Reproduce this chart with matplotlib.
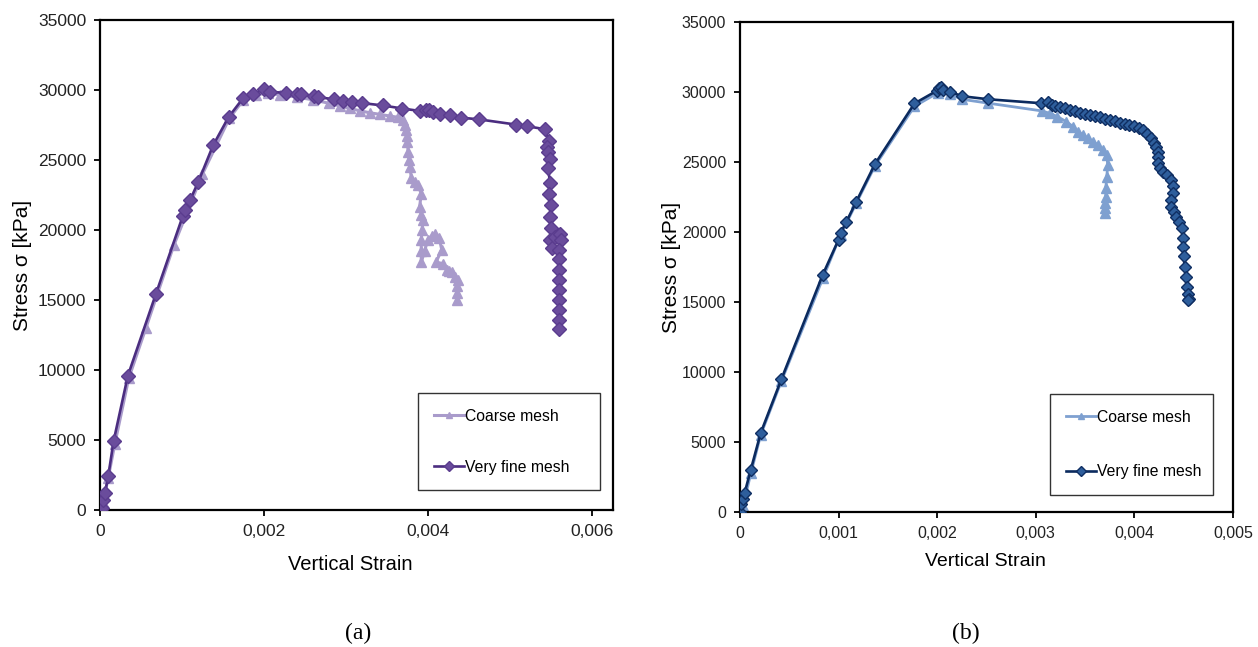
import matplotlib
matplotlib.use("Agg")
import matplotlib.pyplot as plt
from matplotlib.ticker import FuncFormatter, FixedLocator

# ---------------- data (a) ----------------
coarse_a_x = [0, 0.00004, 0.0001, 0.00018, 0.00035, 0.00056, 0.0009, 0.00125, 0.00158, 0.00175,
              0.0019, 0.00205, 0.0022, 0.0024, 0.0026, 0.0028, 0.00293, 0.00305, 0.00317, 0.00329,
              0.00342, 0.00354, 0.00364, 0.0037, 0.00372, 0.00373, 0.00374, 0.00375, 0.00376, 0.00377,
              0.00378, 0.0038, 0.00384, 0.00388, 0.00392, 0.0039, 0.00392, 0.00394, 0.00393, 0.00392,
              0.00392, 0.00392, 0.00396, 0.004, 0.00405, 0.00409, 0.00414, 0.00417, 0.0041, 0.00419,
              0.00423, 0.00426, 0.00429, 0.00433, 0.00437, 0.00436, 0.00436, 0.00436]
coarse_a_y = [0, 600, 2300, 4700, 9400, 13000, 18900, 24000, 28000, 29300,
              29650, 29800, 29650, 29500, 29300, 29050, 28860, 28690, 28520, 28380,
              28260, 28140, 28050, 27860, 27500, 27140, 26700, 26300, 25600, 25000,
              24500, 23700, 23400, 23200, 22600, 21650, 21100, 20700, 20000, 19300,
              18500, 17700, 18500, 19300, 19600, 19700, 19400, 18600, 17700, 17600,
              17150, 17100, 17000, 16650, 16400, 16000, 15500, 15000]

fine_a_x = [0, 0.00002, 0.00004, 0.00006, 0.0001, 0.000165, 0.00034, 0.00068, 0.00101, 0.00104,
            0.0011, 0.0012, 0.00138, 0.00157, 0.00175, 0.00187, 0.002, 0.00208, 0.00227, 0.0024,
            0.00245, 0.00261, 0.00266, 0.00285, 0.00297, 0.00308, 0.0032, 0.00345, 0.00369, 0.00391,
            0.00398, 0.00402, 0.00406, 0.00415, 0.00427, 0.0044, 0.00462, 0.00508, 0.00521, 0.00543,
            0.00548, 0.00546, 0.00547, 0.00549, 0.00547, 0.00549, 0.00548, 0.0055, 0.00549, 0.0055,
            0.00549, 0.00551, 0.00555, 0.00561, 0.00563, 0.0056, 0.0056, 0.0056, 0.0056, 0.0056,
            0.0056, 0.0056, 0.0056, 0.0056]
fine_a_y = [0, 120, 700, 1200, 2400, 4900, 9600, 15400, 21000, 21400,
            22150, 23450, 26050, 28080, 29450, 29720, 30050, 29890, 29780, 29720,
            29720, 29560, 29500, 29340, 29250, 29170, 29070, 28900, 28680, 28500,
            28600, 28550, 28400, 28300, 28190, 28030, 27910, 27530, 27420, 27200,
            26350, 25900, 25600, 25100, 24400, 23350, 22600, 21800, 20950, 20150,
            19300, 18700, 19500, 19700, 19300, 18600, 17900, 17150, 16450, 15700,
            15000, 14300, 13600, 12900]

# ---------------- data (b) ----------------
coarse_b_x = [0, 0.00003, 0.00011, 0.00021, 0.00042, 0.00084, 0.00102, 0.00118, 0.00137, 0.00177,
              0.00201, 0.00213, 0.00225, 0.00252, 0.00306, 0.00314, 0.00322, 0.00331, 0.00338, 0.00343,
              0.00348, 0.00353, 0.00358, 0.00363, 0.00368, 0.00372, 0.00373, 0.00372, 0.00371, 0.00371,
              0.0037, 0.0037, 0.0037]
coarse_b_y = [0, 400, 2750, 5500, 9340, 16680, 19780, 22060, 24730, 28980,
              29950, 29860, 29480, 29200, 28650, 28480, 28240, 27880, 27520, 27160,
              26930, 26690, 26450, 26210, 25860, 25500, 24790, 23930, 23140, 22500,
              22070, 21700, 21360]

fine_b_x = [0, 0.000012, 0.00003, 0.000048, 0.00011, 0.00021, 0.00042, 0.00084, 0.001, 0.00102,
            0.00108, 0.00118, 0.00137, 0.00177, 0.002, 0.00202, 0.00204, 0.00206, 0.00213, 0.00225,
            0.00252, 0.00305, 0.00312, 0.00316, 0.0032, 0.00325, 0.0033, 0.00335, 0.0034, 0.00345,
            0.0035, 0.00355, 0.0036, 0.00365, 0.0037, 0.00375, 0.0038, 0.00385, 0.0039, 0.00395,
            0.004, 0.00405, 0.00409, 0.00413, 0.00417, 0.0042, 0.00422, 0.00424, 0.00424, 0.00424,
            0.00426, 0.00429, 0.00433, 0.00437, 0.00439, 0.00439, 0.00437, 0.00437, 0.0044, 0.00442,
            0.00445, 0.00448, 0.00449, 0.00449, 0.0045, 0.00451, 0.00452, 0.00453, 0.00454, 0.00455,
            0.00454]
fine_b_y = [0, 550, 960, 1370, 3020, 5630, 9480, 16950, 19450, 19920,
            20740, 22170, 24860, 29180, 30100, 30300, 30350, 30140, 30030, 29700,
            29480, 29200, 29250, 29100, 29000, 28900, 28830, 28720, 28620, 28530,
            28450, 28360, 28280, 28190, 28100, 28020, 27920, 27810, 27710, 27620,
            27600, 27400, 27290, 27000, 26690, 26350, 26090, 25700, 25380, 24910,
            24600, 24310, 24050, 23710, 23250, 22760, 22300, 21810, 21400, 21090,
            20700, 20260, 19600, 18950, 18250, 17520, 16800, 16090, 15600, 15200,
            15140]

yticks = [0, 5000, 10000, 15000, 20000, 25000, 30000, 35000]
xticks_a = [0, 0.002, 0.004, 0.006]
xticks_b = [0, 0.001, 0.002, 0.003, 0.004, 0.005]
legend_labels = ["Coarse mesh", "Very fine mesh"]
xlabel = "Vertical Strain"
ylabel = "Stress σ [kPa]"
panel_labels = ["(a)", "(b)"]

plt.rcParams['font.family'] = ['Liberation Sans', 'DejaVu Sans']

fig = plt.figure(figsize=(12.58, 6.47), dpi=100)
axA = fig.add_axes([0.0795, 0.2117, 0.4078, 0.7573])
axB = fig.add_axes([0.5882, 0.2087, 0.3919, 0.7573])


def fmt(v, pos):
    if abs(v) < 1e-12:
        return "0"
    return ("%.3f" % v).replace(".", ",")


def style(ax, xticks, xmax, tsize):
    ax.set_xlim(0, xmax)
    ax.set_ylim(0, 35000)
    ax.xaxis.set_major_locator(FixedLocator(xticks))
    ax.yaxis.set_major_locator(FixedLocator(yticks))
    ax.xaxis.set_major_formatter(FuncFormatter(fmt))
    ax.yaxis.set_major_formatter(FuncFormatter(lambda v, p: "%d" % v))
    ax.tick_params(direction='out', length=4, width=1.3, labelsize=tsize,
                   labelcolor='#222222', pad=6)
    for s in ax.spines.values():
        s.set_linewidth(1.6)
        s.set_color('black')


# ---- panel (a)
axA.plot(coarse_a_x, coarse_a_y, color='#A99BCB', lw=2.2, marker='^', ms=6.5,
         mfc='#A99BCB', mec='#A99BCB', label=legend_labels[0], zorder=2)
axA.plot(fine_a_x, fine_a_y, color='#4B2D80', lw=1.9, marker='D', ms=7.2,
         mfc='#6A4C9C', mec='#5A3C8E', label=legend_labels[1], zorder=3)
style(axA, xticks_a, 0.00626, 12.5)
axA.set_xlabel(xlabel, fontsize=14.5)
axA.set_ylabel(ylabel, fontsize=15)
axA.xaxis.set_label_coords(0.487, -0.092)
axA.yaxis.set_label_coords(-0.133, 0.5)
legA = axA.legend(loc='lower left', bbox_to_anchor=(0.62, 0.04, 0.355, 0.225), mode='expand',
                  fontsize=11.3, frameon=True, fancybox=False, edgecolor='black',
                  labelspacing=2.3, handlelength=1.9, handletextpad=0.1,
                  borderpad=1.0, borderaxespad=0, markerscale=0.75)
legA.get_frame().set_linewidth(1.0)

# ---- panel (b)
axB.plot(coarse_b_x, coarse_b_y, color='#7EA0D0', lw=2.0, marker='^', ms=6.5,
         mfc='#7EA0D0', mec='#7EA0D0', label=legend_labels[0], zorder=2)
axB.plot(fine_b_x, fine_b_y, color='#0B2A5E', lw=1.9, marker='D', ms=6.2,
         mfc='#2E5E9C', mec='#0F2E62', label=legend_labels[1], zorder=3)
style(axB, xticks_b, 0.005, 11.5)
axB.set_xlabel(xlabel, fontsize=14)
axB.set_ylabel(ylabel, fontsize=15)
axB.xaxis.set_label_coords(0.497, -0.084)
axB.yaxis.set_label_coords(-0.12, 0.5)
legB = axB.legend(loc='lower left', bbox_to_anchor=(0.629, 0.035, 0.33, 0.249), mode='expand',
                  fontsize=11.3, frameon=True, fancybox=False, edgecolor='black',
                  labelspacing=2.5, handlelength=1.9, handletextpad=0.1,
                  borderpad=1.0, borderaxespad=0, markerscale=0.75)
legB.get_frame().set_linewidth(1.0)

fig.text(0.2846, 0.0216, panel_labels[0], family='Liberation Serif', fontsize=17,
         ha='center', va='center')
fig.text(0.768, 0.0216, panel_labels[1], family='Liberation Serif', fontsize=17,
         ha='center', va='center')

fig.savefig("out.png", dpi=100, facecolor='white')
